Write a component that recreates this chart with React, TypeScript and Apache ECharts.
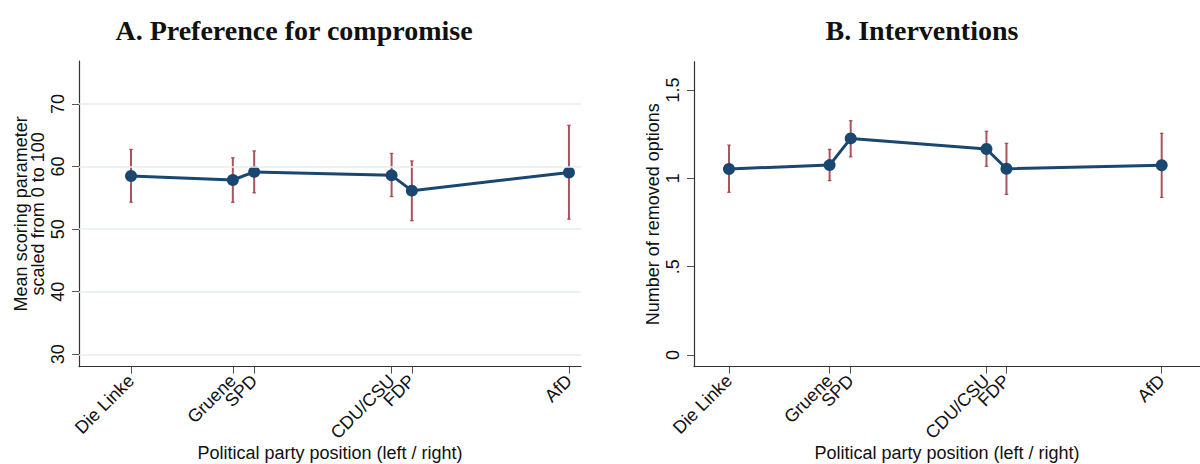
import React, { useEffect, useRef } from "react";
import * as echarts from "echarts";

const parties = ["Die Linke", "Gruene", "SPD", "CDU/CSU", "FDP", "AfD"];
const partyPosition = [1.5, 3.36, 3.75, 6.26, 6.63, 9.5];

const compromiseMean = [58.5, 57.85, 59.15, 58.6, 56.15, 59.05];
const compromiseLow = [54.3, 54.3, 55.8, 55.2, 51.35, 51.6];
const compromiseHigh = [62.75, 61.4, 62.5, 62.1, 60.9, 66.6];

const interventionMean = [1.053, 1.075, 1.226, 1.166, 1.054, 1.074];
const interventionLow = [0.921, 0.987, 1.122, 1.068, 0.909, 0.892];
const interventionHigh = [1.188, 1.164, 1.326, 1.266, 1.198, 1.255];

const compromiseTicks = [30, 40, 50, 60, 70];
const compromiseTickLabels = ["30", "40", "50", "60", "70"];
const interventionTicks = [0, 0.5, 1, 1.5];
const interventionTickLabels = ["0", ".5", "1", "1.5"];

const NAVY = "#1a476f";
const MAROON = "#9c3640";
const SANS = "'Liberation Sans', Arial, Helvetica, sans-serif";
const SERIF = "'Liberation Serif', 'Times New Roman', serif";

function nearestLabel(v: number, values: number[], labels: string[]) {
  let best = 0;
  for (let i = 1; i < values.length; i++) {
    if (Math.abs(values[i] - v) < Math.abs(values[best] - v)) best = i;
  }
  return labels[best];
}

function errorBarRender(_params: any, api: any) {
  const x = api.value(0);
  const lo = api.coord([x, api.value(1)]);
  const hi = api.coord([x, api.value(2)]);
  const cap = 1.8;
  return {
    type: "group",
    children: [
      {
        type: "line",
        shape: { x1: lo[0], y1: lo[1], x2: hi[0], y2: hi[1] },
        style: { stroke: MAROON, lineWidth: 2, opacity: 0.85 },
      },
      {
        type: "line",
        shape: { x1: lo[0] - cap, y1: lo[1], x2: lo[0] + cap, y2: lo[1] },
        style: { stroke: MAROON, lineWidth: 1.2, opacity: 0.85 },
      },
      {
        type: "line",
        shape: { x1: hi[0] - cap, y1: hi[1], x2: hi[0] + cap, y2: hi[1] },
        style: { stroke: MAROON, lineWidth: 1.2, opacity: 0.85 },
      },
    ],
  };
}

function makeXAxis(gridIndex: number, min: number, max: number) {
  return {
    type: "value",
    gridIndex,
    min,
    max,
    axisLine: { show: true, onZero: false, lineStyle: { color: "#333", width: 1.2 } },
    axisTick: {
      show: true,
      customValues: partyPosition,
      length: 7,
      lineStyle: { color: "#555", width: 1 },
    },
    axisLabel: {
      customValues: partyPosition,
      rotate: 45,
      margin: 11,
      color: "#111",
      fontSize: 18,
      fontFamily: SANS,
      formatter: (v: number) => nearestLabel(v, partyPosition, parties),
    },
    splitLine: { show: false },
    name: "Political party position (left / right)",
    nameLocation: "middle",
    nameGap: 77,
    nameMoveOverlap: false,
    nameTextStyle: { color: "#111", fontSize: 18, fontFamily: SANS },
  };
}

function makeYAxis(
  gridIndex: number,
  min: number,
  max: number,
  ticks: number[],
  labels: string[],
  name: string,
  nameGap: number
) {
  return {
    type: "value",
    gridIndex,
    min,
    max,
    axisLine: { show: true, onZero: false, lineStyle: { color: "#333", width: 1.2 } },
    axisTick: {
      show: true,
      customValues: ticks,
      length: 7,
      lineStyle: { color: "#555", width: 1 },
    },
    axisLabel: {
      customValues: ticks,
      rotate: 90,
      margin: 12,
      color: "#111",
      fontSize: 18,
      fontFamily: SANS,
      formatter: (v: number) => nearestLabel(v, ticks, labels),
    },
    splitLine: { show: false },
    name,
    nameLocation: "middle",
    nameRotate: 90,
    nameGap,
    nameMoveOverlap: false,
    nameTextStyle: { color: "#111", fontSize: 18, fontFamily: SANS, lineHeight: 17 },
  };
}

export default function App() {
  const ref = useRef<HTMLDivElement>(null);

  useEffect(() => {
    if (!ref.current) return;
    const chart = echarts.init(ref.current, undefined, { renderer: "svg" });

    const lineSeries = (idx: number, values: number[]) => ({
      type: "line",
      xAxisIndex: idx,
      yAxisIndex: idx,
      data: partyPosition.map((x, i) => [x, values[i]]),
      symbol: "circle",
      symbolSize: 12,
      itemStyle: { color: NAVY },
      lineStyle: { color: NAVY, width: 3 },
      z: 4,
      silent: true,
    });

    const errSeries = (idx: number, lo: number[], hi: number[]) => ({
      type: "custom",
      xAxisIndex: idx,
      yAxisIndex: idx,
      renderItem: errorBarRender,
      data: partyPosition.map((x, i) => [x, lo[i], hi[i]]),
      encode: { x: 0, y: [1, 2] },
      z: 3,
      silent: true,
    });

    chart.setOption({
      animation: false,
      backgroundColor: "#ffffff",
      textStyle: { fontFamily: SANS },
      graphic: [
        {
          type: "text",
          x: 294,
          y: 30,
          style: {
            text: "A. Preference for compromise",
            font: `bold 28px ${SERIF}`,
            fill: "#111",
            align: "center",
            verticalAlign: "middle",
          },
        },
        {
          type: "text",
          x: 922,
          y: 30,
          style: {
            text: "B. Interventions",
            font: `bold 28px ${SERIF}`,
            fill: "#111",
            align: "center",
            verticalAlign: "middle",
          },
        },
      ],
      grid: [
        { left: 79, top: 61, width: 502, height: 305.7, containLabel: false, outerBoundsMode: "none" },
        { left: 694, top: 61.7, width: 506, height: 305, containLabel: false, outerBoundsMode: "none" },
      ],
      xAxis: [makeXAxis(0, 0.55, 9.72), makeXAxis(1, 0.853, 10.208)],
      yAxis: [
        makeYAxis(
          0,
          28.02,
          76.87,
          compromiseTicks,
          compromiseTickLabels,
          "Mean scoring parameter\nscaled from 0 to 100",
          33
        ),
        makeYAxis(
          1,
          -0.066,
          1.66,
          interventionTicks,
          interventionTickLabels,
          "Number of removed options",
          33
        ),
      ],
      series: [
        {
          type: "line",
          xAxisIndex: 0,
          yAxisIndex: 0,
          data: [],
          z: 1,
          silent: true,
          markLine: {
            silent: true,
            symbol: "none",
            label: { show: false },
            lineStyle: { color: "#e6eef1", width: 1.5, type: "solid" },
            data: compromiseTicks.map((v) => ({ yAxis: v })),
          },
        },
        errSeries(0, compromiseLow, compromiseHigh),
        lineSeries(0, compromiseMean),
        errSeries(1, interventionLow, interventionHigh),
        lineSeries(1, interventionMean),
      ],
    });

    return () => chart.dispose();
  }, []);

  return (
    <div
      ref={ref}
      style={{ position: "fixed", left: 0, top: 0, width: 1200, height: 464, background: "#fff" }}
    />
  );
}
